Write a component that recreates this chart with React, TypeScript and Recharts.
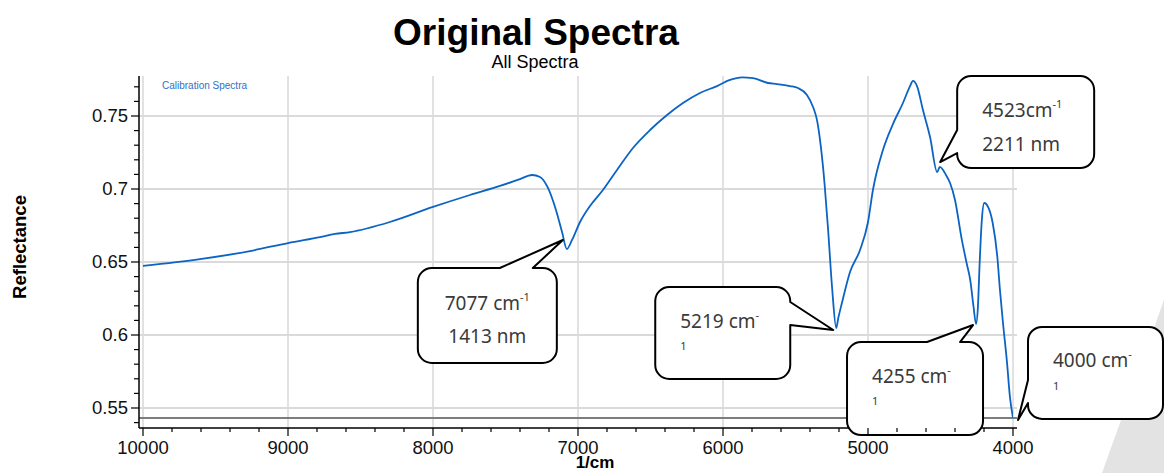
import { CartesianGrid, Line, LineChart, ReferenceDot, ReferenceLine, XAxis, YAxis } from 'recharts';

// Calibration spectrum, wavenumber (1/cm) against reflectance
const wavenumbers = [
  10000, 9607, 9262, 9000, 8779, 8676, 8572, 8297, 8000, 7745, 7538, 7400, 7317, 7262, 7207, 7152, 7110,
  7077, 7041, 6986, 6917, 6828, 6731, 6621, 6503, 6386, 6276, 6159, 6041, 5952, 5869, 5793, 5690, 5628,
  5538, 5483, 5421, 5379, 5352, 5325, 5300, 5275, 5248, 5219, 5205, 5180, 5124, 5055, 5000, 4966, 4897,
  4828, 4759, 4710, 4690, 4662, 4621, 4572, 4523, 4505, 4462, 4434, 4400, 4355, 4320, 4295, 4272, 4255,
  4242, 4230, 4215, 4198, 4172, 4140, 4108, 4090, 4069, 4041, 4021, 4000,
];
const reflectance = [
  0.6473, 0.652, 0.6575, 0.663, 0.6671, 0.6692, 0.6705, 0.6774, 0.6877, 0.6959, 0.7021, 0.7068, 0.7096,
  0.7082, 0.7007, 0.6856, 0.6705, 0.6589, 0.6651, 0.6774, 0.6884, 0.6993, 0.713, 0.7281, 0.7404, 0.7507,
  0.7589, 0.7658, 0.7705, 0.7747, 0.7765, 0.776, 0.7726, 0.7719, 0.7705, 0.7692, 0.7644, 0.7562, 0.7473,
  0.7288, 0.7041, 0.6719, 0.6329, 0.6048, 0.6116, 0.6219, 0.6432, 0.6582, 0.6774, 0.6993, 0.7267, 0.7445,
  0.7589, 0.7705, 0.774, 0.7705, 0.7541, 0.7356, 0.7116, 0.7151, 0.7096, 0.7041, 0.6925, 0.6664, 0.6493,
  0.6377, 0.6192, 0.6075, 0.6192, 0.6493, 0.6788, 0.6904, 0.6877, 0.6767, 0.6534, 0.6308, 0.6082, 0.5808,
  0.5575, 0.5432,
];

const xMajorTicks = [10000, 9000, 8000, 7000, 6000, 5000, 4000];
const xMinorTicks = [
  9800, 9600, 9400, 9200, 8800, 8600, 8400, 8200, 7800, 7600, 7400, 7200, 6800, 6600, 6400, 6200, 5800,
  5600, 5400, 5200, 4800, 4600, 4400, 4200,
];
const yMajorTicks = [0.55, 0.6, 0.65, 0.7, 0.75];
const yMinorTicks = [
  0.54, 0.56, 0.57, 0.58, 0.59, 0.61, 0.62, 0.63, 0.64, 0.66, 0.67, 0.68, 0.69, 0.71, 0.72, 0.73, 0.74,
  0.76, 0.77,
];
const baseline = 0.5432;

// marked bands
const peakWavenumbers = [7077, 5219, 4523, 4255, 4000];
const peakLabels = ['7077 cm', '5219 cm', '4523cm', '4255 cm', '4000 cm'];
const peakSuperscripts = ['-1', '-', '-1', '-', '-'];
const peakSecondLines = ['1413 nm', '1', '2211 nm', '1', '1'];

const data = wavenumbers.map((wn, i) => ({ wn, value: reflectance[i] }));

const tickFont = '"Liberation Sans", Arial, sans-serif';
const noteFont = '"Noto Sans", "Open Sans", sans-serif';
const lineColor = '#0b64c4';

type Side = 'top' | 'right' | 'left';
type BubbleBox = {
  dx: number; dy: number; w: number; h: number;
  side: Side; s1: number; s2: number; tx: number; ty: number;
  b1: number; b2: number; centered?: boolean; small?: boolean;
};

// box offsets from the marked point, tail attachment and text baselines
const bubbleBoxes: BubbleBox[] = [
  { dx: -149, dy: 19, w: 139, h: 95, side: 'top', s1: 82, s2: 115, tx: 145, ty: -28, b1: 42, b2: 75, centered: true },
  { dx: -181, dy: -41, w: 135, h: 92, side: 'right', s1: 15, s2: 38, tx: 178, ty: 43, b1: 41, b2: 63, small: true },
  { dx: 20, dy: -96, w: 137, h: 92, side: 'left', s1: 54, s2: 77, tx: -17, ty: 86, b1: 41, b2: 75 },
  { dx: -129, dy: 18, w: 136, h: 93, side: 'top', s1: 80, s2: 113, tx: 126, ty: -17, b1: 41, b2: 63, small: true },
  { dx: 15, dy: -91, w: 135, h: 92, side: 'left', s1: 53, s2: 76, tx: -10, ty: 93, b1: 40, b2: 63, small: true },
];

function bubblePath(b: BubbleBox) {
  const r = 14;
  const { w, h, side, s1, s2, tx, ty } = b;
  let d = `M ${r} 0`;
  if (side === 'top') d += ` L ${s1} 0 L ${tx} ${ty} L ${s2} 0`;
  d += ` L ${w - r} 0 A ${r} ${r} 0 0 1 ${w} ${r}`;
  if (side === 'right') d += ` L ${w} ${s1} L ${tx} ${ty} L ${w} ${s2}`;
  d += ` L ${w} ${h - r} A ${r} ${r} 0 0 1 ${w - r} ${h}`;
  d += ` L ${r} ${h} A ${r} ${r} 0 0 1 0 ${h - r}`;
  if (side === 'left') d += ` L 0 ${s2} L ${tx} ${ty} L 0 ${s1}`;
  d += ` L 0 ${r} A ${r} ${r} 0 0 1 ${r} 0 Z`;
  return d;
}

function Bubble({ cx, cy, index }: { cx?: number; cy?: number; index: number }) {
  if (cx == null || cy == null) return null;
  const b = bubbleBoxes[index];
  const tx = b.centered ? b.w / 2 : 25;
  const anchor = b.centered ? 'middle' : 'start';
  return (
    <g transform={`translate(${cx + b.dx},${cy + b.dy})`}>
      <path d={bubblePath(b)} fill="#fff" stroke="#000" strokeWidth={2} strokeLinejoin="round" />
      <text x={tx} y={b.b1} textAnchor={anchor} fontFamily={noteFont} fontSize={19} fill="#3a3a3a">
        {peakLabels[index]}
        <tspan dy={-9} fontSize={11}>{peakSuperscripts[index]}</tspan>
      </text>
      <text x={tx} y={b.b2} textAnchor={anchor} fontFamily={noteFont} fontSize={b.small ? 11 : 19} fill="#3a3a3a">
        {peakSecondLines[index]}
      </text>
    </g>
  );
}

const isMajor = (ticks: number[], v: number) => ticks.some((t) => Math.abs(t - v) < 1e-6);

function XTick({ x, y, payload }: any) {
  const major = isMajor(xMajorTicks, payload.value);
  return (
    <g>
      <line x1={x} x2={x} y1={y} y2={y + (major ? 8 : 4)} stroke="#000" strokeWidth={1.2} />
      {major && (
        <text x={x} y={y + 26} textAnchor="middle" fontFamily={tickFont} fontSize={18.5} fill="#111">
          {payload.value}
        </text>
      )}
    </g>
  );
}

function YTick({ x, y, payload }: any) {
  const major = isMajor(yMajorTicks, payload.value);
  return (
    <g>
      <line x1={x} x2={x - (major ? 8 : 5)} y1={y} y2={y} stroke="#000" strokeWidth={1.2} />
      {major && (
        <text x={x - 11} y={y} dy="0.35em" textAnchor="end" fontFamily={tickFont} fontSize={18.5} fill="#111">
          {String(payload.value)}
        </text>
      )}
    </g>
  );
}

export default function App() {
  const xTicks = [...xMajorTicks, ...xMinorTicks].sort((a, b) => b - a);
  const yTicks = [...yMajorTicks, ...yMinorTicks].sort((a, b) => a - b);

  return (
    <div style={{ position: 'absolute', left: 0, top: 0, width: 1164, height: 473, background: '#fff' }}>
      <svg width={1164} height={473} style={{ position: 'absolute', left: 0, top: 0 }}>
        <polygon points="1102,473 1164,300 1164,473" fill="#e3e3e3" />
      </svg>
      <div style={{ position: 'absolute', left: 0, top: 0 }}>
        <LineChart width={1164} height={473} data={data} margin={{ top: 76, right: 147, bottom: 0, left: 79 }}>
          <CartesianGrid horizontal={false} verticalValues={xMajorTicks} stroke="#c4c4c4" strokeWidth={1} />
          <CartesianGrid vertical={false} horizontalValues={yMajorTicks} stroke="#dadada" strokeWidth={2} />
          <XAxis
            dataKey="wn"
            type="number"
            domain={[4000, 10000]}
            reversed
            allowDataOverflow
            ticks={xTicks}
            interval={0}
            padding={{ left: 4, right: 4 }}
            height={45}
            tickSize={0}
            tickMargin={0}
            tickLine={false}
            tick={<XTick />}
            axisLine={{ stroke: '#000', strokeWidth: 1.5 }}
          />
          <XAxis
            xAxisId="frame"
            orientation="top"
            type="number"
            domain={[4000, 10000]}
            height={0}
            tick={false}
            tickLine={false}
            axisLine={{ stroke: '#555', strokeWidth: 1.5 }}
          />
          <YAxis
            type="number"
            domain={[0.5363, 0.7774]}
            allowDataOverflow
            ticks={yTicks}
            interval={0}
            width={60}
            tickSize={0}
            tickMargin={0}
            tickLine={false}
            tick={<YTick />}
            axisLine={{ stroke: '#000', strokeWidth: 1.5 }}
          />
          <YAxis
            yAxisId="frame"
            orientation="right"
            type="number"
            domain={[0.5363, 0.7774]}
            width={0}
            tick={false}
            tickLine={false}
            axisLine={{ stroke: '#888', strokeWidth: 1.5 }}
          />
          <ReferenceLine y={baseline} stroke="#7d7d7d" strokeWidth={2} />
          <Line
            type="monotone"
            dataKey="value"
            name="Calibration Spectra"
            stroke={lineColor}
            strokeWidth={1.8}
            dot={false}
            isAnimationActive={false}
          />
          {peakWavenumbers.map((wn, i) => (
            <ReferenceDot
              key={wn}
              x={wn}
              y={reflectance[wavenumbers.indexOf(wn)]}
              r={0}
              ifOverflow="visible"
              shape={(p: any) => <Bubble cx={p.cx} cy={p.cy} index={i} />}
            />
          ))}
        </LineChart>
      </div>
      <svg width={1164} height={473} style={{ position: 'absolute', left: 0, top: 0, pointerEvents: 'none' }}>
        <text x={536} y={45} textAnchor="middle" fontFamily={tickFont} fontWeight="bold" fontSize={37} fill="#000">
          Original Spectra
        </text>
        <text x={535} y={68} textAnchor="middle" fontFamily={tickFont} fontSize={18} fill="#000">
          All Spectra
        </text>
        <text x={162} y={89} fontFamily={tickFont} fontSize={10} fill="#2f70c6">
          Calibration Spectra
        </text>
        <text x={595} y={468} textAnchor="middle" fontFamily={tickFont} fontWeight="bold" fontSize={17} fill="#000">
          1/cm
        </text>
        <text
          x={26}
          y={247}
          transform="rotate(-90 26 247)"
          textAnchor="middle"
          fontFamily={tickFont}
          fontWeight="bold"
          fontSize={18.5}
          fill="#000"
        >
          Reflectance
        </text>
      </svg>
    </div>
  );
}
